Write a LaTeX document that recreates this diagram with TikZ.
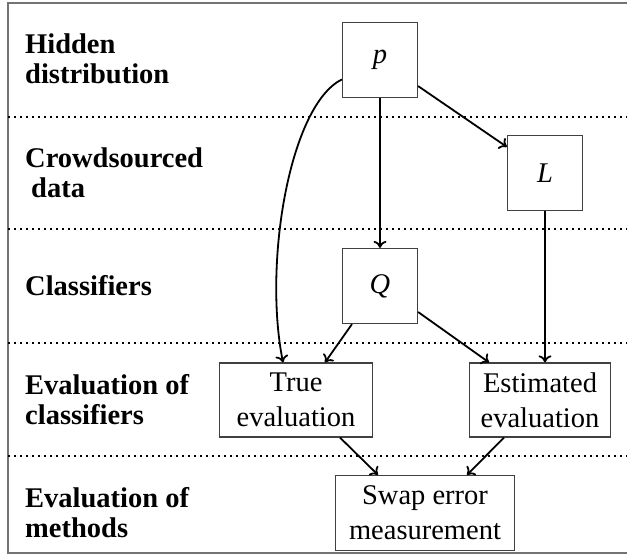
\documentclass[tikz,border=0pt]{standalone}
\usepackage{fontspec}
\setmainfont{Liberation Serif}
\usetikzlibrary{arrows.meta}
\begin{document}
\begin{tikzpicture}[x=1pt,y=-1pt,
  box/.style={draw=black!75,line width=1.2pt,inner sep=0pt,align=center,
    font=\fontsize{28.5}{35}\selectfont},
  sq/.style={box,minimum width=75pt,minimum height=75pt},
  lab/.style={anchor=base west,inner sep=0pt,align=left,
    font=\fontsize{28.5}{30}\selectfont\bfseries},
  sep/.style={line width=1.6pt,dash pattern=on 1.6pt off 4.4pt},
  arr/.style={line width=1.8pt,-{To[length=7pt,width=13pt]}},
  frame/.style={draw=black!55,line width=1.5pt}]
\useasboundingbox (0,0) rectangle (627,555);
% frame
\draw[frame] (630,3) -- (8,3) -- (8,553) -- (630,553);
% separators
\draw[sep] (8,117) -- (627,117);
\draw[sep] (8,229) -- (627,229);
\draw[sep] (8,343) -- (627,343);
\draw[sep] (8,456) -- (627,456);
% row labels (base anchor = baseline of last line)
\node[lab] (l1) at (25,83) {Hidden\\distribution};
\node[lab] (l2) at (25,197) {Crowdsourced\\\hspace*{6pt}data};
\node[lab] (l3) at (25,295) {Classifiers};
\node[lab] (l4) at (25,424) {Evaluation of\\classifiers};
\node[lab] (l5) at (25,537) {Evaluation of\\methods};
% nodes
\node[sq] (p) at (380,60) {\textit{p}};
\node[sq] (L) at (545,173) {\textit{L}};
\node[sq] (Q) at (380,286) {\textit{Q}};
\node[box,minimum width=153pt,minimum height=74pt] (true) at (296,400) {True\\evaluation};
\node[box,minimum width=141pt,minimum height=74pt] (est) at (540,400) {Estimated\\evaluation};
\node[box,minimum width=179pt,minimum height=75pt] (swap) at (425,513) {Swap error\\measurement};
% connectors
\draw[arr] (p.south) -- (Q.north);
\draw[arr] (p) -- (L);
\draw[arr] (p.207) .. controls (290,105) and (263,262) .. ([xshift=-13pt]true.north);
\draw[arr] ([xshift=-28pt]Q.south) -- ([xshift=29pt]true.north);
\draw[arr] ([yshift=-26pt]Q.east) -- ([xshift=-51pt]est.north);
\draw[arr] (L.south) -- (L.south |- est.north);
\draw[arr] ([xshift=44pt]true.south) -- ([xshift=-47pt]swap.north);
\draw[arr] ([xshift=-36pt]est.south) -- ([xshift=42pt]swap.north);
\end{tikzpicture}
\end{document}
